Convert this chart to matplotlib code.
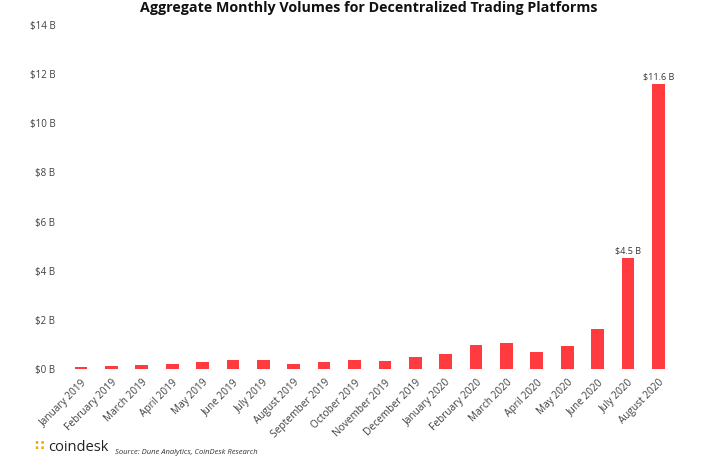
import matplotlib
matplotlib.use("Agg")
import matplotlib.pyplot as plt

months = ["January 2019", "February 2019", "March 2019", "April 2019", "May 2019",
          "June 2019", "July 2019", "August 2019", "September 2019", "October 2019",
          "November 2019", "December 2019", "January 2020", "February 2020",
          "March 2020", "April 2020", "May 2020", "June 2020", "July 2020", "August 2020"]
volumes_b = [0.08, 0.13, 0.17, 0.22, 0.28, 0.35, 0.38, 0.22, 0.28, 0.37,
             0.33, 0.49, 0.62, 0.98, 1.06, 0.70, 0.95, 1.62, 4.5, 11.6]
labelled = {"July 2020": "$4.5 B", "August 2020": "$11.6 B"}
yticks = [0, 2, 4, 6, 8, 10, 12, 14]
ytick_labels = ["$0 B", "$2 B", "$4 B", "$6 B", "$8 B", "$10 B", "$12 B", "$14 B"]

plt.rcParams['font.family'] = ['Open Sans', 'DejaVu Sans']

fig = plt.figure(figsize=(7.1, 4.58), dpi=100)
ax = fig.add_axes([0.0927, 0.1943, 0.856, 0.751])

x = list(range(len(months)))
ax.bar(x, volumes_b, width=0.42, color="#FF3B3F")
for i, (m, v) in enumerate(zip(months, volumes_b)):
    if m in labelled:
        ax.text(i, v + 0.12, labelled[m], ha="center", va="bottom", fontsize=6.5, color="#333333")

ax.set_xlim(-0.5, len(months) - 0.5)
ax.set_ylim(0, 14)
ax.set_yticks(yticks)
ax.set_yticklabels(ytick_labels, fontsize=7, color="#404040")
ax.set_xticks(x)
ax.set_xticklabels(months, rotation=45, ha="right", rotation_mode="anchor", fontsize=7.3, color="#404040")
ax.tick_params(length=0, pad=6)
ax.tick_params(axis="y", pad=7.5)
for s in ax.spines.values():
    s.set_visible(False)

fig.text(0.52, 0.982, "Aggregate Monthly Volumes for Decentralized Trading Platforms",
         ha="center", va="center", fontsize=10.3, fontweight="bold", color="#111111")

# footer
fig.text(0.048, 0.012, "\u2237", fontsize=10, color="#F2A900", ha="left", va="bottom", fontweight="bold")
fig.text(0.068, 0.006, "coindesk", fontsize=10.5, color="#222222", ha="left", va="bottom")
fig.text(0.162, 0.004, "Source: Dune Analytics, CoinDesk Research", fontsize=5.5,
         style="italic", color="#333333", ha="left", va="bottom")

fig.savefig("out.png", dpi=100)
